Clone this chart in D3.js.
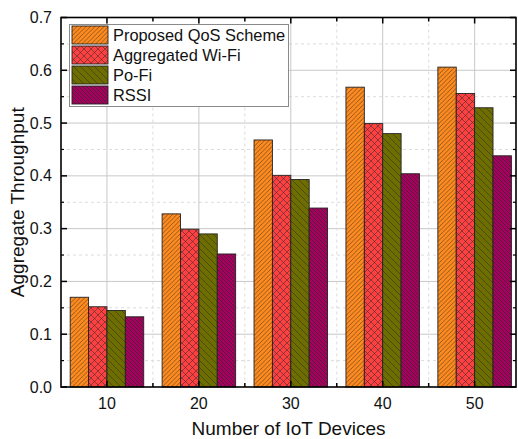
<!DOCTYPE html>
<html><head><meta charset="utf-8">
<script src="https://cdn.jsdelivr.net/npm/d3@7"></script>
<style>body{margin:0;background:#fff}svg{display:block;font-family:"Liberation Sans",Arial,sans-serif}</style>
</head><body><svg id="c" width="518" height="439"></svg>
<script>
const categories = [10, 20, 30, 40, 50];
const seriesNames = ["Proposed QoS Scheme", "Aggregated Wi-Fi", "Po-Fi", "RSSI"];
const proposed = [0.170, 0.328, 0.468, 0.568, 0.606];
const aggregated = [0.152, 0.299, 0.401, 0.499, 0.556];
const pofi = [0.145, 0.290, 0.393, 0.480, 0.529];
const rssi = [0.133, 0.252, 0.339, 0.404, 0.438];
const yTicks = [0, 0.1, 0.2, 0.3, 0.4, 0.5, 0.6, 0.7];
const colors = ["#FF8A1E", "#FF4040", "#6E6E00", "#A8005E"];
const series = [proposed, aggregated, pofi, rssi];

const svg = d3.select("#c");
const L = 61, R = 516, T = 17.5, B = 387;
const x = d3.scaleLinear().domain([5, 54.5]).range([L, R]);
const y = d3.scaleLinear().domain([0, 0.7]).range([B, T]);

// patterns
const defs = svg.append("defs");
function pat(id, color, size, paths, sw, op) {
  const p = defs.append("pattern").attr("id", id).attr("patternUnits", "userSpaceOnUse")
    .attr("width", size).attr("height", size);
  p.append("rect").attr("width", size).attr("height", size).attr("fill", color);
  paths.forEach(d => p.append("path").attr("d", d).attr("stroke", "#2a2a2a").attr("stroke-width", sw).attr("fill", "none").attr("opacity", op));
}
const s0 = 4.5;
pat("p0", colors[0], s0, [`M0,${s0} L${s0},0 M-1,1 L1,-1 M${s0-1},${s0+1} L${s0+1},${s0-1}`], 0.7, 0.75);
const s1 = 7;
pat("p1", colors[1], s1, [`M0,0 L${s1},${s1}`, `M0,${s1} L${s1},0`], 0.7, 0.75);
const s2 = 7;
pat("p2", colors[2], s2, [`M0,0 L${s2},${s2} M-1,${s2-1} L1,${s2+1} M${s2-1},-1 L${s2+1},1`], 0.7, 0.75);
const s3 = 4;
pat("p3", colors[3], s3, [`M0,0 L${s3},${s3} M-1,${s3-1} L1,${s3+1} M${s3-1},-1 L${s3+1},1`], 0.8, 0.85);

// grid
const g = svg.append("g");
const minorY = d3.range(0.05, 0.7, 0.1);
g.selectAll(".gmy").data(minorY).enter().append("line")
  .attr("x1", L).attr("x2", R).attr("y1", d => y(d)).attr("y2", d => y(d))
  .attr("stroke", "#dcdcdc").attr("stroke-dasharray", "3,3").attr("stroke-width", 1);
g.selectAll(".gMy").data(yTicks.slice(1, -1)).enter().append("line")
  .attr("x1", L).attr("x2", R).attr("y1", d => y(d)).attr("y2", d => y(d))
  .attr("stroke", "#c8c8c8").attr("stroke-width", 1);
const midX = [15, 25, 35, 45];
g.selectAll(".gmx").data(midX).enter().append("line")
  .attr("y1", T).attr("y2", B).attr("x1", d => x(d)).attr("x2", d => x(d))
  .attr("stroke", "#dcdcdc").attr("stroke-dasharray", "3,3");
g.selectAll(".gMx").data(categories).enter().append("line")
  .attr("y1", T).attr("y2", B).attr("x1", d => x(d)).attr("x2", d => x(d))
  .attr("stroke", "#c8c8c8");

// bars
series.forEach((vals, i) => {
  svg.append("g").selectAll("rect").data(vals).enter().append("rect")
    .attr("x", (d, j) => x(categories[j] - 4 + 2 * i))
    .attr("width", x(2) - x(0))
    .attr("y", d => y(d))
    .attr("height", d => B - y(d))
    .attr("fill", `url(#p${i})`)
    .attr("stroke", "#222").attr("stroke-width", 0.9);
});

// frame and ticks
const ax = svg.append("g").attr("stroke", "#000");
ax.append("rect").attr("x", L).attr("y", T).attr("width", R - L).attr("height", B - T)
  .attr("fill", "none").attr("stroke-width", 1.6);
yTicks.forEach(v => {
  ax.append("line").attr("x1", L).attr("x2", L + 6).attr("y1", y(v)).attr("y2", y(v)).attr("stroke-width", 1.5);
  ax.append("line").attr("x1", R).attr("x2", R - 6).attr("y1", y(v)).attr("y2", y(v)).attr("stroke-width", 1.5);
});
minorY.forEach(v => {
  ax.append("line").attr("x1", L).attr("x2", L + 3).attr("y1", y(v)).attr("y2", y(v)).attr("stroke-width", 1.2);
  ax.append("line").attr("x1", R).attr("x2", R - 3).attr("y1", y(v)).attr("y2", y(v)).attr("stroke-width", 1.2);
});
categories.concat(midX).forEach(v => {
  const len = categories.includes(v) ? 6 : 4;
  ax.append("line").attr("x1", x(v)).attr("x2", x(v)).attr("y1", T).attr("y2", T + len).attr("stroke-width", 1.5);
  ax.append("line").attr("x1", x(v)).attr("x2", x(v)).attr("y1", B).attr("y2", B - len).attr("stroke-width", 1.5);
});

// tick labels
svg.append("g").selectAll("text").data(yTicks).enter().append("text")
  .attr("x", L - 9).attr("y", d => y(d)).attr("dy", "0.35em").attr("text-anchor", "end")
  .attr("font-size", 16).attr("fill", "#111").text(d => d.toFixed(1));
svg.append("g").selectAll("text").data(categories).enter().append("text")
  .attr("x", d => x(d)).attr("y", 409).attr("text-anchor", "middle")
  .attr("font-size", 16).attr("fill", "#111").text(d => d);

// axis titles
svg.append("text").attr("x", (L + R) / 2).attr("y", 435).attr("text-anchor", "middle")
  .attr("font-size", 19).attr("fill", "#111").text("Number of IoT Devices");
svg.append("text").attr("transform", `translate(24,${(T + B) / 2}) rotate(-90)`).attr("text-anchor", "middle")
  .attr("font-size", 19).attr("fill", "#111").text("Aggregate Throughput");

// legend
const lg = svg.append("g");
lg.append("rect").attr("x", 69.5).attr("y", 24.5).attr("width", 219).attr("height", 82)
  .attr("fill", "#fff").attr("stroke", "#8a8a8a").attr("stroke-width", 1);
seriesNames.forEach((n, i) => {
  const yy = 26 + i * 20;
  lg.append("rect").attr("x", 72).attr("y", yy).attr("width", 36).attr("height", 18)
    .attr("fill", `url(#p${i})`).attr("stroke", "#222").attr("stroke-width", 0.9);
  lg.append("text").attr("x", 113).attr("y", yy + 9).attr("dy", "0.35em")
    .attr("font-size", 16.4).attr("fill", "#111").text(n);
});
</script></body></html>
